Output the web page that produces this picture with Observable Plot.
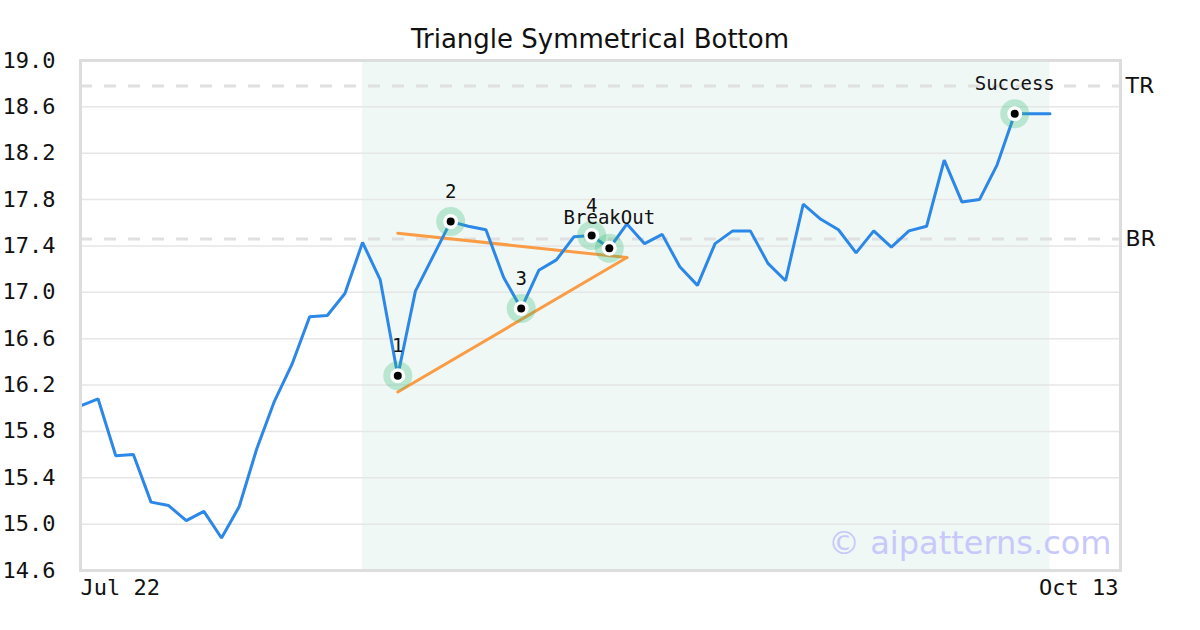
<!DOCTYPE html>
<html>
<head>
<meta charset="utf-8">
<script src="https://cdn.jsdelivr.net/npm/d3@7"></script>
<script src="https://cdn.jsdelivr.net/npm/@observablehq/plot@0.6"></script>
<style>
  html, body { margin: 0; padding: 0; background: #fff; }
  #wrap { width: 1200px; height: 630px; position: relative; overflow: hidden; }
  #title { height: 50px; position: relative; }
  #title span { position: absolute; top: 24px; left: 0; width: 1200px; text-align: center;
    font-family: "DejaVu Sans", sans-serif; font-size: 26px; line-height: normal; color: #111; }
  svg { display: block; overflow: visible; }
</style>
</head>
<body>
<div id="wrap">
  <div id="title"><span>Triangle Symmetrical Bottom</span></div>
  <div id="chart"></div>
</div>
<script>
// Daily closes (index 0 = Jul 22)
const closes = [16.02, 16.08, 15.59, 15.60, 15.19, 15.16, 15.03, 15.11, 14.88, 15.15,
  15.65, 16.06, 16.38, 16.79, 16.80, 16.99, 17.43, 17.11, 16.28, 17.01,
  17.31, 17.61, 17.57, 17.54, 17.13, 16.86, 17.19, 17.28, 17.48, 17.49,
  17.38, 17.59, 17.42, 17.50, 17.22, 17.06, 17.42, 17.53, 17.53, 17.25,
  17.10, 17.76, 17.63, 17.54, 17.34, 17.53, 17.39, 17.53, 17.57, 18.14,
  17.78, 17.80, 18.10, 18.54, 18.54, 18.54];

// x axis
const xDomain = [0, 59];
const xTickIdx = [0, 59];
const xTickLabels = ["Jul 22", "Oct 13"];

// y axis ticks
const yTicks = [14.6, 15.0, 15.4, 15.8, 16.2, 16.6, 17.0, 17.4, 17.8, 18.2, 18.6, 19.0];

// pattern window shading (index range)
const shadeStart = 16;
const shadeEnd = 55;

// horizontal reference levels
const levelNames = ["TR", "BR"];
const levelValues = [18.78, 17.46];

// triangle trend lines: [startIdx, startVal, endIdx, endVal]
const upperLine = [18, 17.51, 31, 17.30];
const lowerLine = [18, 16.14, 31, 17.30];

// pattern points
const pointIdx = [18, 21, 25, 29, 30, 53];
const pointLabels = ["1", "2", "3", "4", "BreakOut", "Success"];

const watermark = "© aipatterns.com";

const series = closes.map((v, i) => ({i, v}));
const points = pointIdx.map((i, k) => ({i, v: closes[i], label: pointLabels[k]}));
const levels = levelNames.map((n, k) => ({name: n, v: levelValues[k]}));
const trend = [
  {i: upperLine[0], v: upperLine[1], g: "u"}, {i: upperLine[2], v: upperLine[3], g: "u"},
  {i: lowerLine[0], v: lowerLine[1], g: "l"}, {i: lowerLine[2], v: lowerLine[3], g: "l"}
];
const xticks = xTickIdx.map((i, k) => ({i, label: xTickLabels[k]}));

const mono = "DejaVu Sans Mono, monospace";
const xTickStyle = {x: "i", y: () => 14.6, text: "label", dy: 9, lineAnchor: "top",
  fontSize: 22, fontFamily: mono, fill: "#111"};

const chart = Plot.plot({
  width: 1200,
  height: 580,
  marginTop: 10,
  marginBottom: 60,
  marginLeft: 80,
  marginRight: 80,
  x: {domain: xDomain, axis: null},
  y: {domain: [14.6, 19.0], axis: null},
  style: {fontFamily: mono, background: "transparent", overflow: "visible"},
  marks: [
    Plot.rect([{x1: shadeStart, x2: shadeEnd}], {x1: "x1", x2: "x2", fill: "#eff8f4"}),
    Plot.ruleY(yTicks, {stroke: "#e6e6e6", strokeWidth: 1.5}),
    Plot.ruleY(levels, {y: "v", stroke: "#e0e0e0", strokeWidth: 3, strokeDasharray: "12,12"}),
    Plot.line(trend, {x: "i", y: "v", z: "g", stroke: "#fa9c45", strokeWidth: 3}),
    Plot.line(series, {x: "i", y: "v", stroke: "#2b87e8", strokeWidth: 3, strokeLinejoin: "miter"}),
    Plot.dot(points, {x: "i", y: "v", r: 14.5, fill: "#2eb872", fillOpacity: 0.28, stroke: "none"}),
    Plot.dot(points, {x: "i", y: "v", r: 7.5, fill: "white", stroke: "none"}),
    Plot.dot(points, {x: "i", y: "v", r: 4, fill: "black", stroke: "none"}),
    Plot.text(points, {x: "i", y: "v", text: "label", dy: -24, lineAnchor: "bottom",
      textAnchor: "middle", fontSize: 19, fontFamily: mono, fill: "#111"}),
    Plot.frame({stroke: "#dddddd", strokeWidth: 3}),
    Plot.text(yTicks, {x: () => xDomain[0], y: d => d, text: d => d.toFixed(1), dx: -25,
      textAnchor: "end", lineAnchor: "middle", fontSize: 22, fontFamily: mono, fill: "#111"}),
    Plot.text(xticks.slice(0, 1), {...xTickStyle, textAnchor: "start"}),
    Plot.text(xticks.slice(1), {...xTickStyle, textAnchor: "end", dx: -2}),
    Plot.text(levels, {x: () => xDomain[1], y: "v", text: "name", dx: 5, textAnchor: "start",
      lineAnchor: "middle", fontSize: 22, fontFamily: "DejaVu Sans, sans-serif", fill: "#111"}),
    Plot.text([watermark], {frameAnchor: "bottom-right", text: d => d, dx: -9, dy: -17,
      textAnchor: "end", lineAnchor: "bottom", fontSize: 32, fontFamily: "DejaVu Sans, sans-serif",
      fill: "#c8c8fb"})
  ]
});
document.getElementById("chart").appendChild(chart);
</script>
</body>
</html>
